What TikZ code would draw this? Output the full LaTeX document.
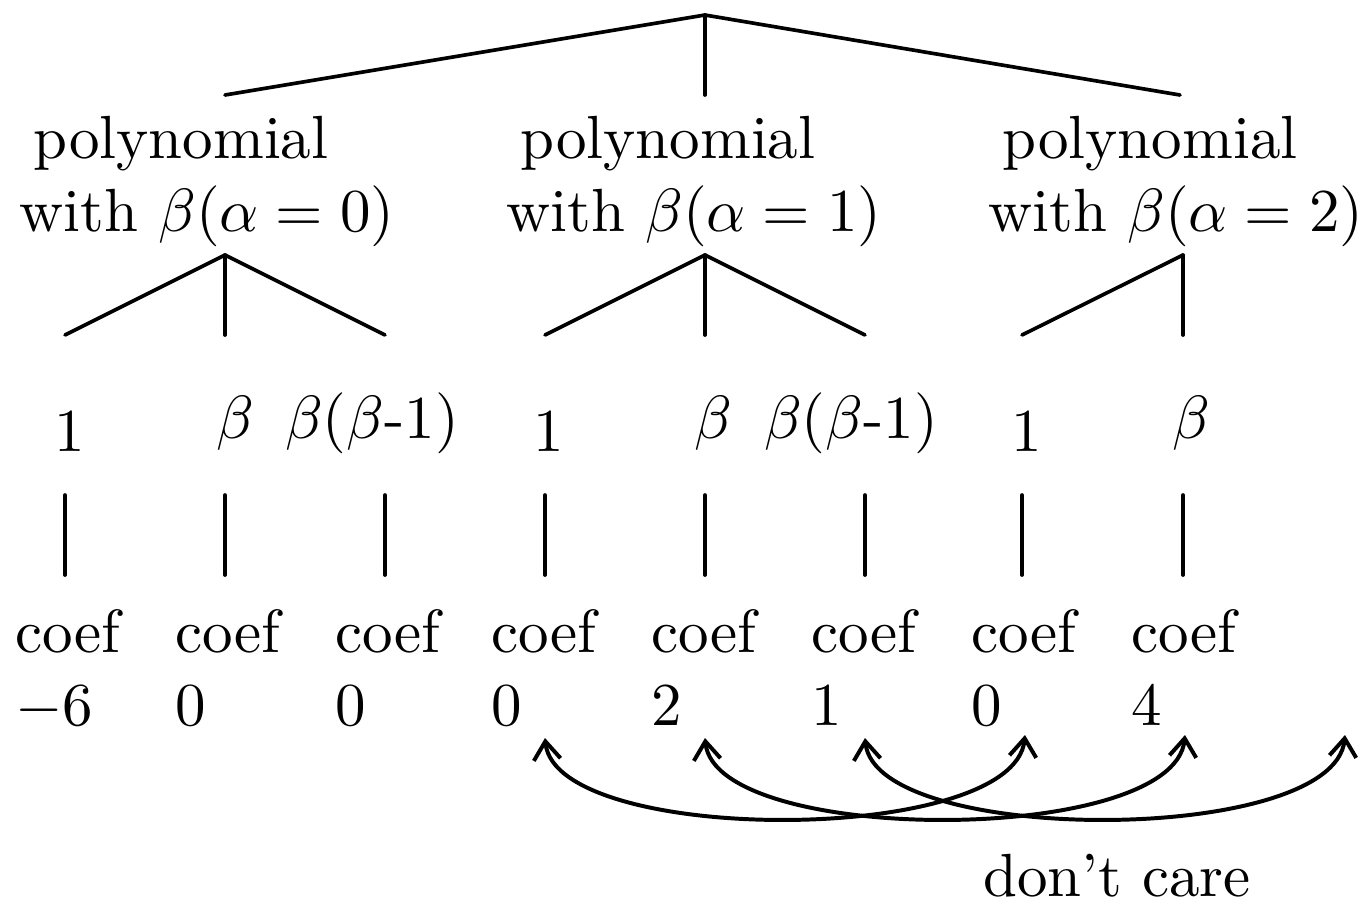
\documentclass[tikz,border=0pt]{standalone}
\usepackage{tikz}
\usetikzlibrary{arrows.meta}

\begin{document}
\begin{tikzpicture}[
    x=0.164pt,
    y=-0.164pt,
    tree/.style={
        line width=0.6pt,
        line cap=round
    },
    polytext/.style={
        anchor=north,
        inner sep=0pt,
        align=center
    },
    termtext/.style={
        anchor=base,
        inner sep=0pt
    },
    coefbox/.style={
        anchor=north west,
        inner sep=0pt,
        align=left
    },
    swaparrow/.style={
        {Straight Barb[length=3pt,width=4.4pt]}-{Straight Barb[length=3pt,width=4.4pt]},
        line width=0.65pt
    }
]

\useasboundingbox (0,0) rectangle (1369,902);

% top level
\coordinate (root) at (705,15);
\coordinate (b0) at (225,95);
\coordinate (b1) at (705,95);
\coordinate (b2) at (1180,95);

\draw[tree]
(root) -- (b0);

\draw[tree]
(root) -- (b1);

\draw[tree]
(root) -- (b2);

\node[polytext] (poly0) at (207,115)
{polynomial\hspace*{8.5pt}\\with $\beta(\alpha=0)$};

\node[polytext] (poly1) at (694,115)
{polynomial\hspace*{8.5pt}\\with $\beta(\alpha=1)$};

\node[polytext] (poly2) at (1176,115)
{polynomial\hspace*{8.5pt}\\with $\beta(\alpha=2)$};

% second level
\coordinate (a0) at (225,255);
\coordinate (a1) at (705,255);
\coordinate (a2) at (1183,255);

\coordinate (e0a) at (65,335);
\coordinate (e0b) at (225,335);
\coordinate (e0c) at (385,335);
\coordinate (e1a) at (545,335);
\coordinate (e1b) at (705,335);
\coordinate (e1c) at (865,335);
\coordinate (e2a) at (1022,335);
\coordinate (e2b) at (1183,335);

\draw[tree]
(a0) -- (e0a);
\draw[tree]
(a0) -- (e0b);
\draw[tree]
(a0) -- (e0c);

\draw[tree]
(a1) -- (e1a);
\draw[tree]
(a1) -- (e1b);
\draw[tree]
(a1) -- (e1c);

\draw[tree]
(a2) -- (e2a);
\draw[tree]
(a2) -- (e2b);

\node[termtext] (t0a) at (70,451) {1};
\node[termtext] (t0b) at (235,438) {$\beta$};
\node[termtext] (t0c) at (372,438) {$\beta$($\beta$-1)};
\node[termtext] (t1a) at (549,451) {1};
\node[termtext] (t1b) at (713,438) {$\beta$};
\node[termtext] (t1c) at (851,438) {$\beta$($\beta$-1)};
\node[termtext] (t2a) at (1027,451) {1};
\node[termtext] (t2b) at (1191,438) {$\beta$};

% leaves
\coordinate (v0a) at (65,495);
\coordinate (v0b) at (225,495);
\coordinate (v0c) at (385,495);
\coordinate (v1a) at (545,495);
\coordinate (v1b) at (705,495);
\coordinate (v1c) at (865,495);
\coordinate (v2a) at (1022,495);
\coordinate (v2b) at (1183,495);

\coordinate (w0a) at (65,575);
\coordinate (w0b) at (225,575);
\coordinate (w0c) at (385,575);
\coordinate (w1a) at (545,575);
\coordinate (w1b) at (705,575);
\coordinate (w1c) at (865,575);
\coordinate (w2a) at (1022,575);
\coordinate (w2b) at (1183,575);

\draw[tree] (v0a) -- (w0a);
\draw[tree] (v0b) -- (w0b);
\draw[tree] (v0c) -- (w0c);
\draw[tree] (v1a) -- (w1a);
\draw[tree] (v1b) -- (w1b);
\draw[tree] (v1c) -- (w1c);
\draw[tree] (v2a) -- (w2a);
\draw[tree] (v2b) -- (w2b);

\node[coefbox] (c0a) at (14,608) {coef\\$-6$};
\node[coefbox] (c0b) at (174,608) {coef\\0};
\node[coefbox] (c0c) at (334,608) {coef\\0};
\node[coefbox] (c1a) at (490,608) {coef\\0};
\node[coefbox] (c1b) at (650,608) {coef\\2};
\node[coefbox] (c1c) at (810,608) {coef\\1};
\node[coefbox] (c2a) at (970,608) {coef\\0};
\node[coefbox] (c2b) at (1130,608) {coef\\4};

% moved coefficients
\coordinate (s0) at (545,738);
\coordinate (s1) at (705,738);
\coordinate (s2) at (865,738);
\coordinate (r0) at (1025,735);
\coordinate (r1) at (1185,735);
\coordinate (r2) at (1345,735);

\draw[swaparrow]
(s0) .. controls (556,846) and (1014,846) .. (r0);

\draw[swaparrow]
(s1) .. controls (716,846) and (1174,846) .. (r1);

\draw[swaparrow]
(s2) .. controls (876,846) and (1334,846) .. (r2);

\node[termtext] (dontcare) at (1117,896) {don't care};

\end{tikzpicture}
\end{document}
